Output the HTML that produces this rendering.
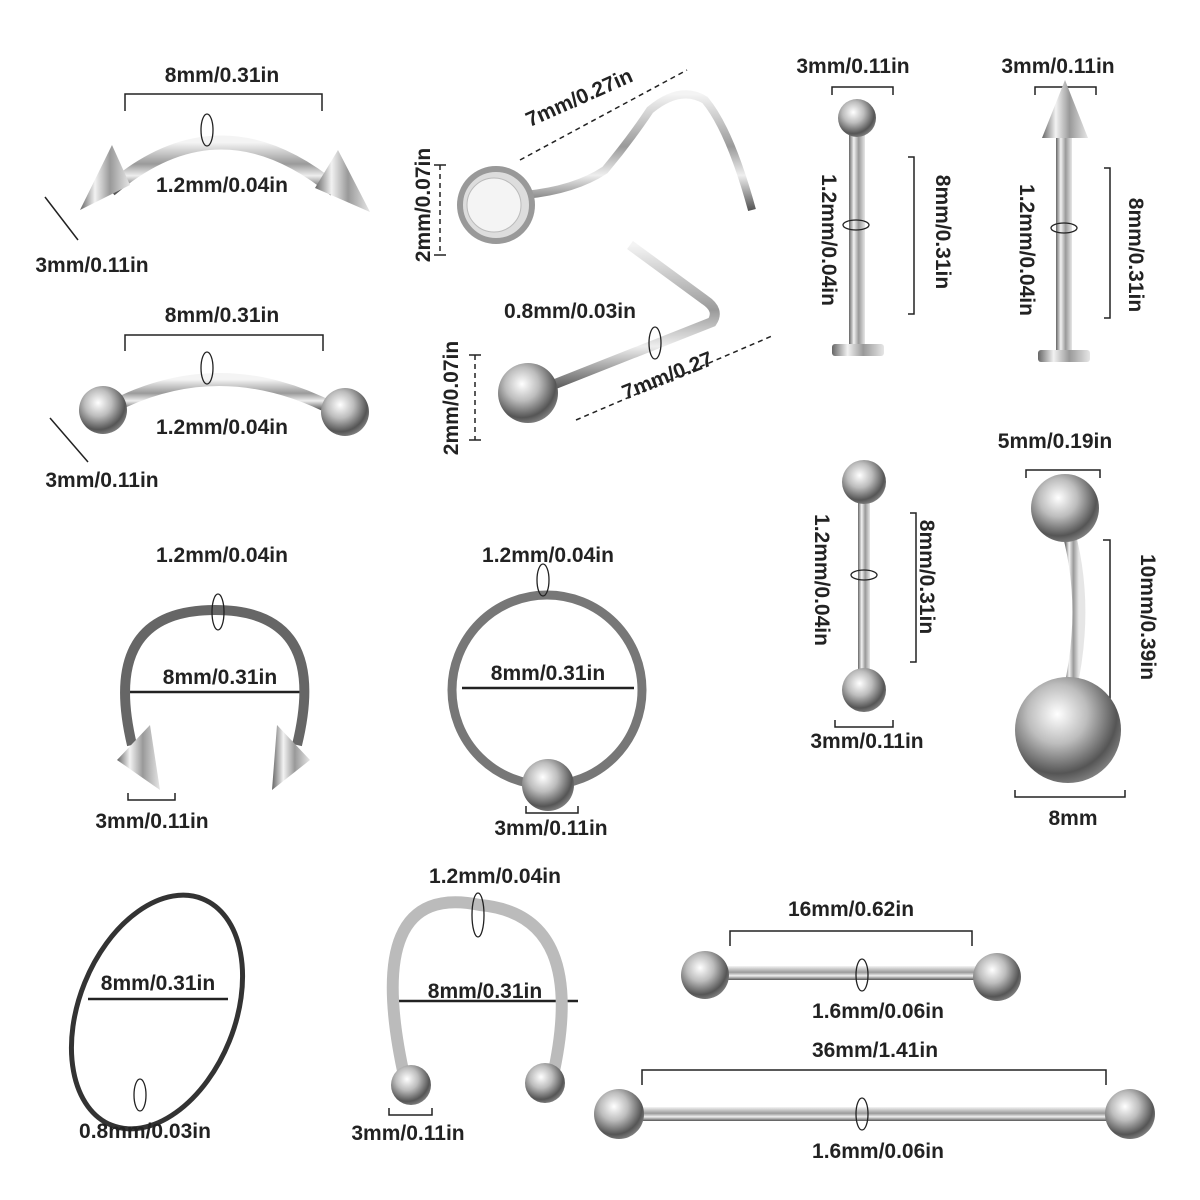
<!DOCTYPE html>
<html><head><meta charset="utf-8"><style>
html,body{margin:0;padding:0;background:#fff}
svg{display:block}
text{font-family:"Liberation Sans",sans-serif;fill:#222;font-size:21px;font-weight:bold}
</style></head><body>
<svg width="1200" height="1200" viewBox="0 0 1200 1200" xmlns="http://www.w3.org/2000/svg">
<defs>
<linearGradient id="m" x1="0" y1="0" x2="0" y2="1"><stop offset="0" stop-color="#f4f4f4"/><stop offset=".45" stop-color="#9a9a9a"/><stop offset=".7" stop-color="#eee"/><stop offset="1" stop-color="#555"/></linearGradient>
<linearGradient id="mh" x1="0" y1="0" x2="1" y2="0"><stop offset="0" stop-color="#666"/><stop offset=".3" stop-color="#f2f2f2"/><stop offset=".6" stop-color="#999"/><stop offset="1" stop-color="#e6e6e6"/></linearGradient>
<radialGradient id="b" cx=".4" cy=".35" r=".7"><stop offset="0" stop-color="#fff"/><stop offset=".4" stop-color="#bdbdbd"/><stop offset=".8" stop-color="#555"/><stop offset="1" stop-color="#888"/></radialGradient>
</defs>
<rect width="1200" height="1200" fill="#fff"/>
<g fill="none" stroke="#222" stroke-width="1.5">
<path d="M125 111V94H322V111"/><path d="M125 351V335H323V351"/>
<path d="M45 197L78 240M50 418L88 462"/>
<path d="M832 95V87H893V95M1035 95V87H1096V95"/>
<path d="M908 157H914V314H908M1104 168H1110V318H1104"/>
<path d="M1026 478V470H1100V478M1103 540H1110V700H1103M1015 790V797H1125V790"/>
<path d="M910 513H916V662H910M835 720V727H893V720"/>
<path d="M128 793V800H175V793M526 806V813H578V806M389 1108V1115H432V1108"/>
<path d="M730 946V931H972V946M642 1085V1070H1106V1085"/>
<path d="M122 692H300M462 688H634M88 999H228M388 1001H578" stroke-width="2.5"/>
</g>
<g fill="none" stroke="#222" stroke-width="1.5" stroke-dasharray="5 4">
<path d="M520 160L687 70M576 420L772 336M440 165V255M475 355V440"/>
</g>
<path d="M434 165H446M434 255H446M469 355H481M469 440H481" stroke="#222" stroke-width="1.5"/>
<path d="M110 190Q220 95 335 190" stroke="url(#m)" stroke-width="14" fill="none"/>
<path d="M80 210L112 145L130 185Z" fill="url(#mh)"/><path d="M370 212L338 150L315 188Z" fill="url(#mh)"/>
<path d="M110 408Q220 350 335 410" stroke="url(#m)" stroke-width="13" fill="none"/>
<circle cx="103" cy="410" r="24" fill="url(#b)"/><circle cx="345" cy="412" r="24" fill="url(#b)"/>
<path d="M525 195Q575 190 605 170Q630 140 650 110Q680 85 705 100Q730 130 752 210" stroke="url(#m)" stroke-width="8" fill="none"/>
<circle cx="496" cy="205" r="36" fill="#ddd" stroke="#999" stroke-width="6"/><circle cx="494" cy="205" r="27" fill="#f4f4f4" stroke="#bbb"/>
<path d="M540 390L712 322Q720 310 705 300L630 245" stroke="url(#m)" stroke-width="10" fill="none"/>
<circle cx="528" cy="393" r="30" fill="url(#b)"/>
<rect x="849" y="125" width="16" height="225" fill="url(#mh)"/><circle cx="857" cy="118" r="19" fill="url(#b)"/><rect x="832" y="344" width="52" height="12" rx="3" fill="url(#mh)"/>
<rect x="1056" y="135" width="16" height="220" fill="url(#mh)"/><path d="M1042 138L1065 80L1088 138Z" fill="url(#mh)"/><rect x="1038" y="350" width="52" height="12" rx="3" fill="url(#mh)"/>
<rect x="858" y="495" width="12" height="180" fill="url(#mh)"/><circle cx="864" cy="482" r="22" fill="url(#b)"/><circle cx="864" cy="690" r="22" fill="url(#b)"/>
<path d="M1065 520Q1090 600 1070 690" stroke="url(#mh)" stroke-width="13" fill="none"/>
<circle cx="1065" cy="508" r="34" fill="url(#b)"/><circle cx="1068" cy="730" r="53" fill="url(#b)"/>
<path d="M132 745Q100 610 215 610Q330 610 297 745" stroke="#666" stroke-width="10" fill="none"/>
<path d="M117 760L150 725L160 790Z" fill="url(#mh)"/><path d="M310 760L277 725L272 790Z" fill="url(#mh)"/>
<circle cx="547" cy="690" r="95" stroke="#777" stroke-width="9" fill="none"/><circle cx="548" cy="785" r="26" fill="url(#b)"/>
<ellipse cx="157" cy="1012" rx="78" ry="122" transform="rotate(22 157 1012)" stroke="#333" stroke-width="5" fill="none"/>
<path d="M405 1080Q360 880 480 905Q590 915 552 1080" stroke="#bbb" stroke-width="12" fill="none"/>
<circle cx="411" cy="1085" r="20" fill="url(#b)"/><circle cx="545" cy="1083" r="20" fill="url(#b)"/>
<rect x="705" y="966" width="290" height="14" fill="url(#m)"/><circle cx="705" cy="975" r="24" fill="url(#b)"/><circle cx="997" cy="977" r="24" fill="url(#b)"/>
<rect x="620" y="1107" width="510" height="14" fill="url(#m)"/><circle cx="619" cy="1114" r="25" fill="url(#b)"/><circle cx="1130" cy="1114" r="25" fill="url(#b)"/>
<g fill="none" stroke="#222" stroke-width="1.3">
<ellipse cx="207" cy="130" rx="6" ry="16"/><ellipse cx="207" cy="368" rx="6" ry="16"/><ellipse cx="218" cy="612" rx="6" ry="18"/><ellipse cx="543" cy="580" rx="6" ry="16"/>
<ellipse cx="856" cy="225" rx="13" ry="5"/><ellipse cx="1064" cy="228" rx="13" ry="5"/><ellipse cx="864" cy="575" rx="13" ry="5"/>
<ellipse cx="478" cy="915" rx="6" ry="22"/><ellipse cx="862" cy="975" rx="6" ry="16"/><ellipse cx="862" cy="1114" rx="6" ry="16"/>
<ellipse cx="140" cy="1095" rx="6" ry="16"/><ellipse cx="655" cy="343" rx="6" ry="16"/>
</g>
<g text-anchor="middle">
<text x="222" y="82">8mm/0.31in</text><text x="222" y="192">1.2mm/0.04in</text><text x="92" y="272">3mm/0.11in</text>
<text x="222" y="322">8mm/0.31in</text><text x="222" y="434">1.2mm/0.04in</text><text x="102" y="487">3mm/0.11in</text>
<text x="582" y="104" font-size="23" transform="rotate(-24 582 104)">7mm/0.27in</text>
<text x="430" y="205" font-size="17" transform="rotate(-90 430 205)">2mm/0.07in</text>
<text x="570" y="318" font-size="23">0.8mm/0.03in</text>
<text x="670" y="382" font-size="25" transform="rotate(-22 670 382)">7mm/0.27</text>
<text x="458" y="398" font-size="25" transform="rotate(-90 458 398)">2mm/0.07in</text>
<text x="853" y="73">3mm/0.11in</text><text x="1058" y="73">3mm/0.11in</text>
<text x="936" y="232" transform="rotate(90 936 232)">8mm/0.31in</text>
<text x="822" y="240" transform="rotate(90 822 240)">1.2mm/0.04in</text>
<text x="1129" y="255" transform="rotate(90 1129 255)">8mm/0.31in</text>
<text x="1020" y="250" transform="rotate(90 1020 250)">1.2mm/0.04in</text>
<text x="1055" y="448" font-size="23">5mm/0.19in</text>
<text x="1141" y="617" font-size="25" transform="rotate(90 1141 617)">10mm/0.39in</text>
<text x="1073" y="825" font-size="29">8mm</text>
<text x="920" y="577" font-size="19" transform="rotate(90 920 577)">8mm/0.31in</text>
<text x="815" y="580" font-size="19" transform="rotate(90 815 580)">1.2mm/0.04in</text>
<text x="867" y="748">3mm/0.11in</text>
<text x="222" y="562">1.2mm/0.04in</text><text x="220" y="684">8mm/0.31in</text><text x="152" y="828">3mm/0.11in</text>
<text x="548" y="562">1.2mm/0.04in</text><text x="548" y="680">8mm/0.31in</text><text x="551" y="835">3mm/0.11in</text>
<text x="158" y="990" font-size="18">8mm/0.31in</text><text x="145" y="1138" font-size="17">0.8mm/0.03in</text>
<text x="495" y="883">1.2mm/0.04in</text><text x="485" y="998">8mm/0.31in</text><text x="408" y="1140">3mm/0.11in</text>
<text x="851" y="916">16mm/0.62in</text><text x="878" y="1018">1.6mm/0.06in</text>
<text x="875" y="1057">36mm/1.41in</text><text x="878" y="1158">1.6mm/0.06in</text>
</g>
</svg>
</body></html>
